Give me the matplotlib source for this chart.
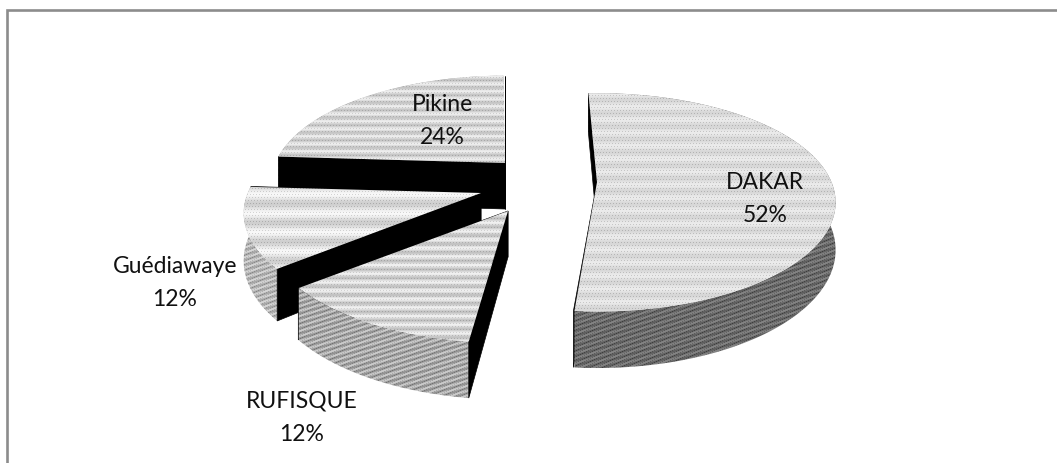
import numpy as np
import matplotlib
matplotlib.use("Agg")
import matplotlib.pyplot as plt
from matplotlib.patches import Polygon

# chart values
labels = ["DAKAR", "RUFISQUE", "Guédiawaye", "Pikine"]
shares = [52, 12, 12, 24]

# where each slice ended up once exploded (pixels), its small turn and size
apex_x = [597, 508, 481, 505]
apex_y = [183, 212, 194, 164]
turn = [-2.5, 0.5, 0.0, 0.0]
size = [0.985, 1.0, 0.98, 0.965]
label_x = [765, 302, 175, 442]
label_y = [199, 418, 283, 121]

W, H = 1057, 464
RX, RY, DEPTH, PERSP = 238, 107, 46, 0.189

plt.rcParams["font.family"] = ["Lato", "DejaVu Sans"]

fig = plt.figure(figsize=(W / 100, H / 100), dpi=100)
ax = fig.add_axes([0, 0, 1, 1])
ax.set_xlim(0, W)
ax.set_ylim(H, 0)
ax.axis("off")

# only the top and left side of the frame are in the picture
ax.plot([6.7, 6.7, W], [H, 11, 11], color="#8c8c8c", linewidth=1.9, solid_joinstyle="miter")

yy, xx = np.mgrid[0:H, 0:W]


def stripes(base, amp, period, dots):
    # halftone look of the printed pie: horizontal bands + fine dots
    t = base + amp * np.sin(2 * np.pi * yy / period)
    t = t - dots * ((xx + yy // 3) % 3 == 0) * ((yy % 3) == 0)
    return np.clip(t, 0, 1)


def hatch(base, amp):
    # slanted dotted hatch for the outer walls
    t = base + amp * np.sin(2 * np.pi * (xx * 0.3 + yy) / 5.0)
    t = t - 0.12 * ((xx + 2 * yy) % 6 == 0)
    return np.clip(t, 0, 1)


top_tex = [
    stripes(0.88, 0.04, 13, 0.14),
    stripes(0.85, 0.09, 8.5, 0.12),
    stripes(0.89, 0.08, 19, 0.14),
    stripes(0.85, 0.08, 7.5, 0.12),
]
wall_tex = [hatch(0.44, 0.08), hatch(0.68, 0.12), hatch(0.74, 0.10), hatch(0.68, 0.12)]


def project(cx, cy, deg, r=1.0):
    # clockwise from 12 o'clock, near side is drawn larger
    a = np.radians(deg)
    u = np.sin(a) * r
    v = -np.cos(a) * r
    s = 1 / (1 - PERSP * v)
    return cx + RX * u * s, cy + RY * v * s, s


def textured(pts, tex, z):
    patch = Polygon(pts, closed=True, transform=ax.transData, facecolor="none", edgecolor="none")
    ax.add_patch(patch)
    im = ax.imshow(tex, cmap="gray", vmin=0, vmax=1, extent=(0, W, H, 0), interpolation="nearest", zorder=z, aspect="auto")
    im.set_clip_path(patch)


def cut_face(cx, cy, deg, r, z):
    x0, y0, s0 = project(cx, cy, deg, 0.0)
    x1, y1, s1 = project(cx, cy, deg, r)
    pts = [(x0, y0), (x1, y1), (x1, y1 + DEPTH * s1), (x0, y0 + DEPTH * s0)]
    ax.add_patch(Polygon(pts, closed=True, facecolor="black", edgecolor="black", linewidth=0.5, zorder=z))


# start angles from the shares
ends = np.cumsum(shares) * 3.6
starts = ends - np.array(shares) * 3.6

# back slices first
z = 2
for i in [0, 3, 2, 1]:
    cx, cy, r = apex_x[i], apex_y[i], size[i]
    a0, a1 = starts[i] + turn[i], ends[i] + turn[i]
    arc = np.arange(a0, a1 + 0.5, 1.0)
    top = [project(cx, cy, d, r)[:2] for d in arc]
    low = [(p[0], p[1] + DEPTH * p[2]) for p in (project(cx, cy, d, r) for d in arc)]
    # the end face sits behind the wall, the start face in front of it
    cut_face(cx, cy, a1, r, z)
    z += 1
    textured(top + low[::-1], wall_tex[i], z)
    z += 1
    cut_face(cx, cy, a0, r, z)
    z += 1
    textured([(cx, cy)] + top, top_tex[i], z)
    z += 1

for name, share, lx, ly in zip(labels, shares, label_x, label_y):
    ax.text(lx, ly, f"{name}\n{share}%", ha="center", va="center", fontsize=16.5, color="#111111",
            linespacing=1.72, zorder=50)

fig.savefig("out.png", dpi=100)
